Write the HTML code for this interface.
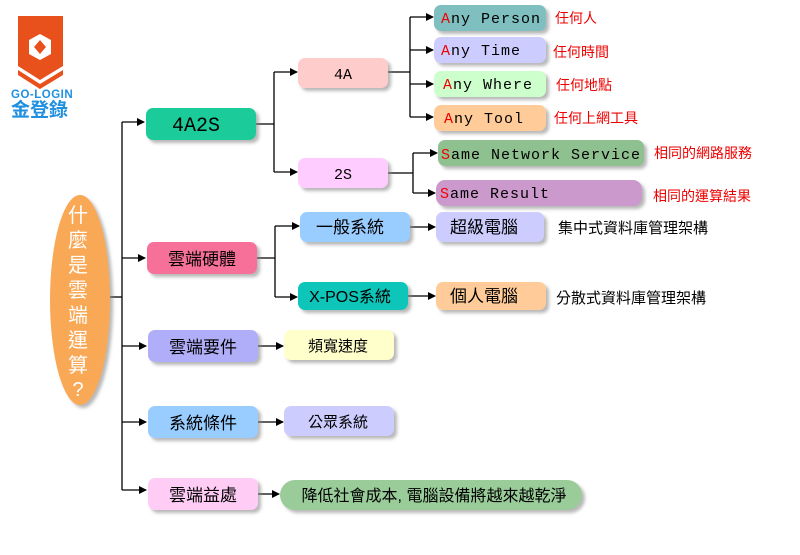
<!DOCTYPE html>
<html><head><meta charset="utf-8"><style>
body{margin:0;background:#fff}
text{font-family:"Liberation Sans","Noto Sans CJK TC",sans-serif;}
text.m,.m text{font-family:"Liberation Mono","Noto Sans CJK TC",monospace;}
</style></head><body>
<svg width="800" height="550" xmlns="http://www.w3.org/2000/svg">
<defs>
<marker id="a" markerWidth="8" markerHeight="8" refX="7" refY="4" orient="auto" markerUnits="userSpaceOnUse"><path d="M0,0 L8,4 L0,8 z" fill="#000"/></marker>
<filter id="s" x="-10%" y="-20%" width="130%" height="160%"><feDropShadow dx="3" dy="3" stdDeviation="1.5" flood-color="#888" flood-opacity="0.6"/></filter>
</defs>
<!-- logo -->
<path d="M18,16 L63,16 L63,66 L40,80 L18,66 z" fill="#e8501c"/>
<path d="M18,70 L40,84 L63,70 L63,75 L40,89 L18,75 z" fill="#e8501c"/>
<polygon points="40,34 51,40 51,54 40,60 29,54 29,40" fill="#fff"/>
<polygon points="40,40 46,47 40,54 34,47" fill="#e8501c"/>
<text x="11" y="98" font-size="11.5" font-weight="bold" fill="#1f8fe0" letter-spacing="0.5">GO-LOGIN</text>
<text x="11" y="116" font-size="19" font-weight="bold" fill="#1f8fe0">金登錄</text>
<g stroke="#000" stroke-width="1.3" fill="none">
<path d="M110,297 H122"/><path d="M122,122 V490"/>
<path d="M122,122 H144" marker-end="url(#a)"/>
<path d="M122,258 H145" marker-end="url(#a)"/>
<path d="M122,346 H146" marker-end="url(#a)"/>
<path d="M122,422 H146" marker-end="url(#a)"/>
<path d="M122,490 H146" marker-end="url(#a)"/>
<path d="M256,124 H274 M274,72 V172"/>
<path d="M274,72 H297" marker-end="url(#a)"/><path d="M274,172 H297" marker-end="url(#a)"/>
<path d="M388,72 H410 M410,17 V117"/>
<path d="M410,17 H433" marker-end="url(#a)"/><path d="M410,50 H433" marker-end="url(#a)"/>
<path d="M410,84 H433" marker-end="url(#a)"/><path d="M410,117 H433" marker-end="url(#a)"/>
<path d="M388,173 H413 M413,153 V193"/>
<path d="M413,153 H437" marker-end="url(#a)"/><path d="M413,193 H435" marker-end="url(#a)"/>
<path d="M257,258 H275 M275,226 V297"/>
<path d="M275,226 H299" marker-end="url(#a)"/><path d="M275,297 H297" marker-end="url(#a)"/>
<path d="M410,227 H435" marker-end="url(#a)"/><path d="M408,296 H435" marker-end="url(#a)"/>
<path d="M258,346 H283" marker-end="url(#a)"/><path d="M258,422 H283" marker-end="url(#a)"/>
<path d="M258,494 H279" marker-end="url(#a)"/>
</g>
<g filter="url(#s)">
<ellipse cx="80" cy="300" rx="30" ry="105" fill="#f9a857"/>
<rect x="146" y="108" width="110" height="32" rx="7" fill="#1ccb9a"/>
<rect x="147" y="242" width="110" height="32" rx="7" fill="#f76f99"/>
<rect x="148" y="330" width="110" height="32" rx="7" fill="#b0adf9"/>
<rect x="148" y="406" width="110" height="32" rx="7" fill="#99ccff"/>
<rect x="148" y="478" width="110" height="32" rx="7" fill="#ffccf5"/>
<rect x="298" y="58" width="90" height="30" rx="7" fill="#ffcccc"/>
<rect x="298" y="158" width="90" height="30" rx="7" fill="#ffccff"/>
<rect x="434" y="5" width="112" height="26" rx="7" fill="#7fbfbf"/>
<rect x="434" y="37" width="112" height="26" rx="7" fill="#ccccff"/>
<rect x="434" y="71" width="112" height="26" rx="7" fill="#ccffcc"/>
<rect x="434" y="105" width="112" height="26" rx="7" fill="#ffcc99"/>
<rect x="438" y="140" width="206" height="26" rx="7" fill="#8fc08f"/>
<rect x="436" y="180" width="206" height="26" rx="9" fill="#cc99cc"/>
<rect x="300" y="212" width="110" height="30" rx="7" fill="#99ccff"/>
<rect x="298" y="282" width="110" height="28" rx="7" fill="#11c5b9"/>
<rect x="436" y="212" width="108" height="30" rx="7" fill="#ccccff"/>
<rect x="436" y="282" width="110" height="28" rx="7" fill="#ffcc99"/>
<rect x="284" y="330" width="110" height="30" rx="7" fill="#ffffcc"/>
<rect x="284" y="406" width="110" height="30" rx="7" fill="#ccccff"/>
<rect x="280" y="480" width="302" height="30" rx="15" fill="#99cc99"/>
</g>
<g fill="#fff" font-size="20" text-anchor="middle">
<text x="78" y="222">什</text><text x="78" y="247">麼</text><text x="78" y="272">是</text><text x="78" y="297">雲</text><text x="78" y="322">端</text><text x="78" y="347">運</text><text x="78" y="372">算</text><text x="78" y="396">?</text>
</g>
<g font-size="17" text-anchor="middle" fill="#000">
<text x="196" y="131" class="m" font-size="20">4A2S</text>
<text x="202" y="265">雲端硬體</text>
<text x="203" y="353">雲端要件</text>
<text x="203" y="429">系統條件</text>
<text x="203" y="501">雲端益處</text>
<text x="343" y="79" class="m" font-size="15">4A</text>
<text x="343" y="179" class="m" font-size="15">2S</text>
<text x="350" y="233">一般系統</text>
<text x="350" y="302" font-size="16">X-POS系統</text>
<text x="484" y="233">超級電腦</text>
<text x="484" y="302">個人電腦</text>
<text x="338" y="351" font-size="15">頻寬速度</text>
<text x="338" y="427" font-size="15">公眾系統</text>
<text x="434" y="501" font-size="16">降低社會成本, 電腦設備將越來越乾淨</text>
</g>
<g font-size="15" class="m" fill="#000" letter-spacing="1">
<text x="441" y="23"><tspan fill="#e00">A</tspan>ny Person</text>
<text x="441" y="55"><tspan fill="#e00">A</tspan>ny Time</text>
<text x="443" y="89"><tspan fill="#e00">A</tspan>ny Where</text>
<text x="444" y="123"><tspan fill="#e00">A</tspan>ny Tool</text>
<text x="441" y="159"><tspan fill="#e00">S</tspan>ame Network Service</text>
<text x="440" y="198"><tspan fill="#e00">S</tspan>ame Result</text>
</g>
<g font-size="14" fill="#e00">
<text x="555" y="23">任何人</text><text x="553" y="57">任何時間</text><text x="556" y="90">任何地點</text><text x="554" y="123">任何上網工具</text>
<text x="654" y="158">相同的網路服務</text><text x="653" y="201">相同的運算結果</text>
</g>
<g font-size="15" fill="#000">
<text x="558" y="233">集中式資料庫管理架構</text>
<text x="556" y="303">分散式資料庫管理架構</text>
</g>
</svg>
</body></html>
